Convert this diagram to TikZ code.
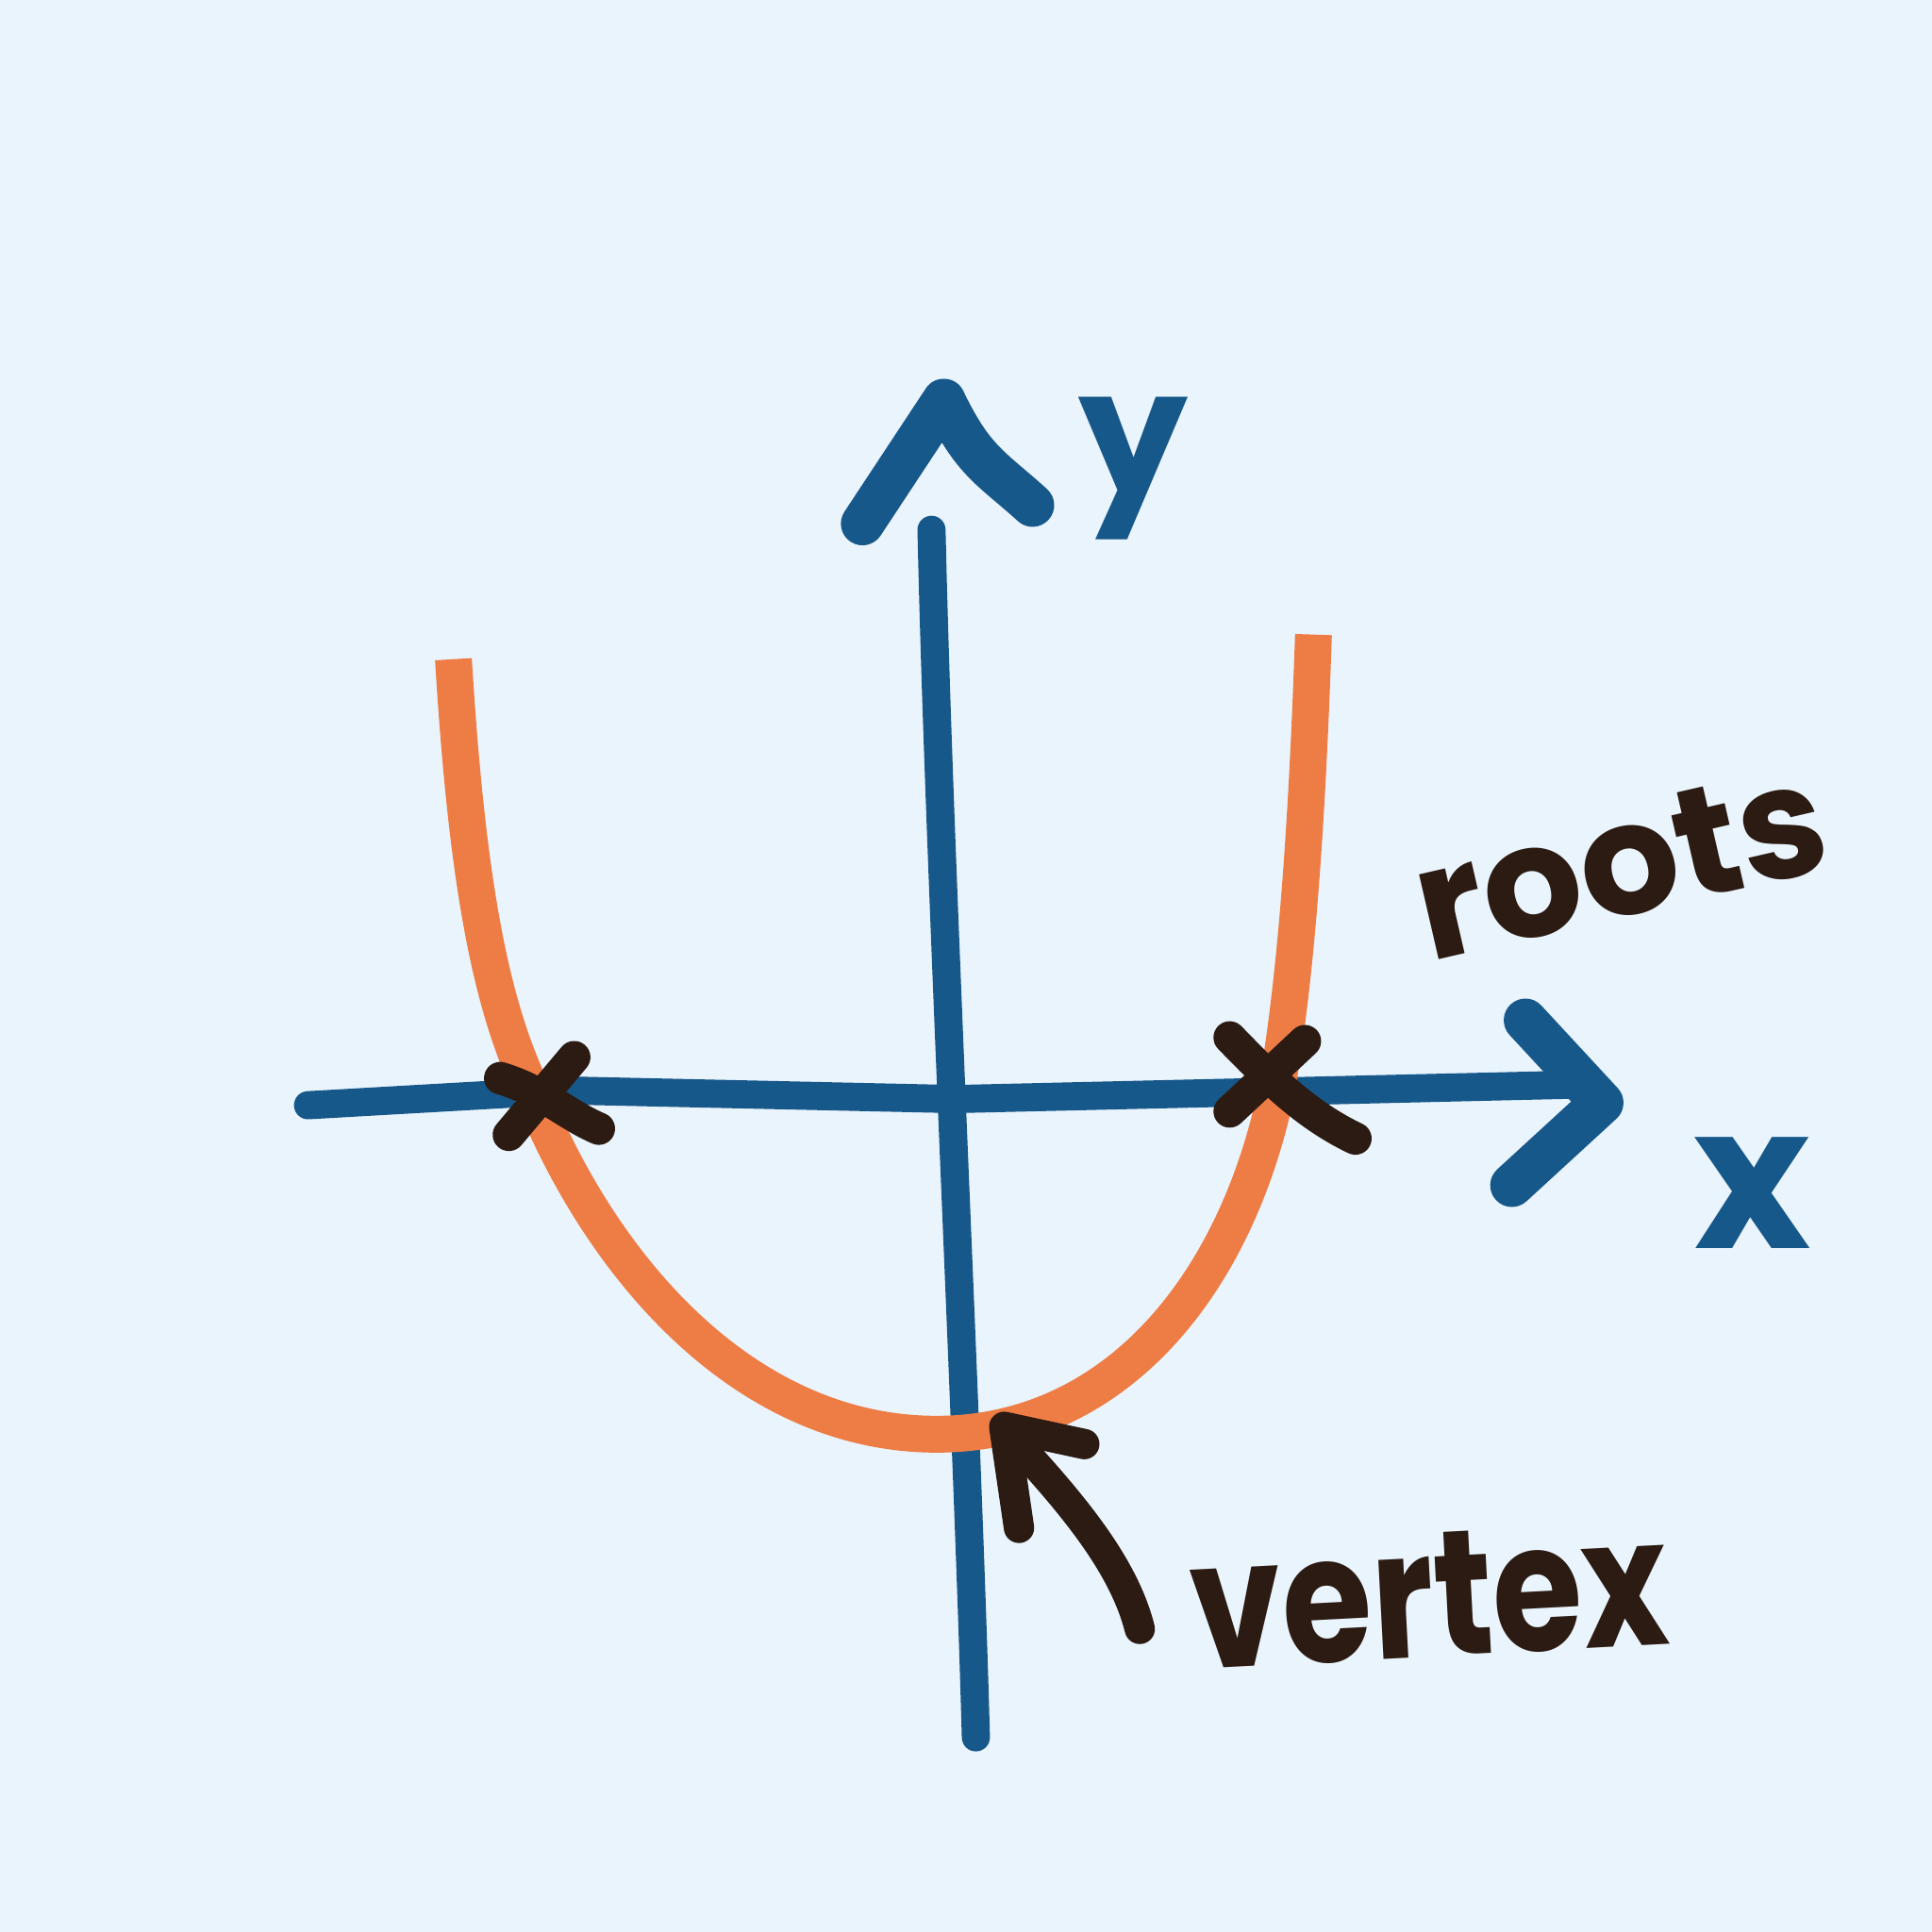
\documentclass[tikz,border=0pt]{standalone}
\usepackage{fontspec}
\newfontfamily\hand{Poppins}
\definecolor{bgc}{HTML}{EAF4FD}
\definecolor{axisblue}{HTML}{17588A}
\definecolor{parab}{HTML}{EE7D45}
\definecolor{ink}{HTML}{2B1B12}
\tikzset{
  axisline/.style={draw=axisblue, line width=6.5pt, line cap=round},
  axishead/.style={draw=axisblue, line width=10pt, line cap=round, line join=round},
  curveline/.style={draw=parab, line width=8.5pt, line cap=butt},
  crossline/.style={draw=ink, line width=7.5pt, line cap=round},
  pointer/.style={draw=ink, line width=7pt, line cap=round, line join=round},
  handtext/.style={text=ink, font=\hand\bfseries\fontsize{36}{36}\selectfont, inner sep=0pt},
  axistext/.style={text=axisblue, font=\hand\bfseries\fontsize{40}{40}\selectfont, inner sep=0pt}
}
\begin{document}
\begin{tikzpicture}[x=1cm,y=-1cm]
\fill[bgc] (0,0) rectangle (15.68,15.68);
\useasboundingbox (0,0) rectangle (15.68,15.68);

% axes
\coordinate (yb) at (7.92,14.1);
\coordinate (yt) at (7.56,4.3);
\coordinate (xl) at (2.5,8.97);
\coordinate (xr) at (12.9,8.8);
\draw[axisline] (yb) .. controls (7.85,11.5) and (7.62,7) .. (yt);
\draw[axisline] (xl) -- (4.6,8.85) -- (7.75,8.92) -- (xr);
\coordinate (ytip) at (7.66,3.25);
\draw[axishead] (7.0,4.25) -- (ytip) .. controls (7.9,3.75) and (8.05,3.8) .. (8.38,4.1);
\coordinate (xtip) at (13.0,8.95);
\draw[axishead] (12.38,8.28) -- (xtip) -- (12.27,9.62);

% parabola
\coordinate (pl) at (3.68,5.35);
\coordinate (pv) at (7.6,11.64);
\coordinate (pr) at (10.66,5.15);
\draw[curveline] (pl) .. controls (3.78,7.0) and (3.95,8.0) .. (4.25,8.7)
  .. controls (4.8,10.2) and (6.0,11.64) .. (pv)
  .. controls (9.0,11.64) and (10.0,10.5) .. (10.35,8.9)
  .. controls (10.55,7.8) and (10.62,6.3) .. (pr);

% root crosses
\coordinate (r1) at (4.4,8.9);
\draw[crossline] (4.13,9.21) -- (4.66,8.58);
\draw[crossline] (4.06,8.75) .. controls (4.4,8.85) and (4.6,9.05) .. (4.86,9.16);
\coordinate (r2) at (10.3,8.75);
\draw[crossline] (9.98,9.02) -- (10.59,8.45);
\draw[crossline] (9.98,8.42) .. controls (10.3,8.75) and (10.6,9.05) .. (11.0,9.24);

% labels
\node[axistext] (ylab) at (9.2,3.8) {y};
\node[axistext, font=\hand\bfseries\fontsize{46}{46}\selectfont] (xlab) at (14.22,9.68) {x};
\node[handtext, rotate=13] (roots) at (13.15,7.0) {roots};
\node[handtext, font=\hand\bfseries\fontsize{41}{41}\selectfont, rotate=3] (vertex) at (11.6,12.95) {\scalebox{0.82}[1]{vertex}};

% vertex pointer
\coordinate (vtail) at (9.25,13.22);
\coordinate (vtip) at (8.2,11.66);
\draw[pointer] (vtail) .. controls (9.12,12.7) and (8.7,12.2) .. (vtip);
\draw[pointer] (8.27,12.4) -- (8.15,11.58) -- (8.8,11.72);
\end{tikzpicture}
\end{document}
